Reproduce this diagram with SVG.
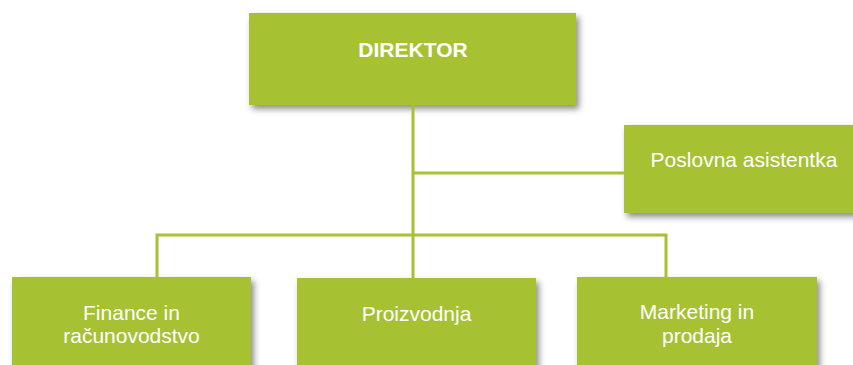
<svg xmlns="http://www.w3.org/2000/svg" width="853" height="365" viewBox="0 0 853 365">
<defs>
<filter id="sh" x="-10%" y="-10%" width="130%" height="140%">
<feDropShadow dx="3" dy="4" stdDeviation="3" flood-color="#000" flood-opacity="0.45"/>
</filter>
</defs>
<style>
.box{fill:#A6C233;filter:url(#sh)}
.t{font-family:"Liberation Sans",Arial,sans-serif;font-size:21px;fill:#fff;text-anchor:middle}
.b{font-weight:bold}
.c{stroke:#A6C233;stroke-width:3;fill:none}
</style>
<rect width="853" height="365" fill="#fff"/>
<g id="direktor">
<rect class="box" x="249" y="13" width="327" height="92"/>
<text class="t b" x="413" y="57">DIREKTOR</text>
</g>
<g id="asistentka">
<rect class="box" x="624" y="125" width="240" height="88"/>
<text class="t" x="744" y="167">Poslovna asistentka</text>
</g>
<g id="finance">
<rect class="box" x="12" y="277" width="239" height="100"/>
<text class="t" x="131.5" y="320">Finance in</text>
<text class="t" x="131.5" y="343">računovodstvo</text>
</g>
<g id="proizvodnja">
<rect class="box" x="297" y="278" width="239" height="100"/>
<text class="t" x="416.5" y="321">Proizvodnja</text>
</g>
<g id="marketing">
<rect class="box" x="577" y="277" width="240" height="100"/>
<text class="t" x="697" y="319">Marketing in</text>
<text class="t" x="697" y="343">prodaja</text>
</g>
<g id="connectors">
<path class="c" d="M413 105V278M413 173H624M157 277V235H666V277"/>
</g>
</svg>
